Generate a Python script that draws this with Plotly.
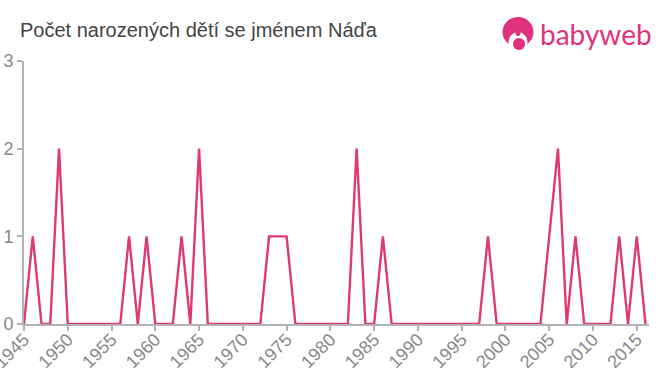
import plotly.graph_objects as go

years = list(range(1945, 2017))
nonzero = {1946: 1, 1949: 2, 1957: 1, 1959: 1, 1963: 1, 1965: 2, 1973: 1, 1974: 1, 1975: 1,
           1983: 2, 1986: 1, 1998: 1, 2005: 1, 2006: 2, 2008: 1, 2013: 1, 2015: 1}
counts = [nonzero.get(y, 0) for y in years]
y_ticks = [0, 1, 2, 3]
x_ticks = list(range(1945, 2016, 5))
title = "Počet narozených dětí se jménem Náďa"
brand = "babyweb"
W, H = 660, 375
L, R, T, B = 24, 11, 61, 51
PINK = "#e0327c"

fig = go.Figure(go.Scatter(x=years, y=counts, mode="lines",
                           line=dict(color="#df3a70", width=2.4), hoverinfo="skip", cliponaxis=False))

def px(x): return (x - L) / (W - L - R)
def py(y): return 1 - (y - T) / (H - T - B)
def circle(cx, cy, rx, ry, color):
    return dict(type="circle", xref="paper", yref="paper", x0=px(cx - rx), x1=px(cx + rx),
                y0=py(cy + ry), y1=py(cy - ry), fillcolor=color, line=dict(width=0), layer="above")

shapes = [
    circle(518, 32, 15.5, 15, PINK),
    circle(518, 42, 9.5, 10, "white"),
    circle(518, 33, 2.5, 3, PINK),
    circle(519, 44, 6, 6, PINK),
]

fig.update_layout(
    width=W, height=H, autosize=False,
    margin=dict(l=L, r=R, t=T, b=B, pad=0),
    paper_bgcolor="white", plot_bgcolor="white", showlegend=False,
    font=dict(family="Liberation Sans, Arial, sans-serif", color="#888888", size=16),
    shapes=shapes,
    annotations=[
        dict(text=title, xref="paper", yref="paper", x=px(18), y=py(30), xanchor="left", yanchor="middle",
             showarrow=False, font=dict(size=20, color="#444444")),
        dict(text=brand, xref="paper", yref="paper", x=px(538), y=py(34), xanchor="left", yanchor="middle",
             showarrow=False, font=dict(size=28, color=PINK, family="Lato, sans-serif")),
    ],
    xaxis=dict(range=[1945, 2016.4], tickmode="array", tickvals=x_ticks, ticks="outside", ticklen=5,
               tickwidth=1.5, tickcolor="#b3b3b3", showline=True, linecolor="#b3b3b3", linewidth=2,
               showgrid=False, zeroline=False, tickangle=-45, automargin=False, ticklabeloverflow="allow",
               ticklabelstandoff=-9, tickfont=dict(size=18, color="#888888")),
    yaxis=dict(range=[0, 3], tickmode="array", tickvals=y_ticks, ticks="outside", ticklen=5,
               tickwidth=1.5, tickcolor="#b3b3b3", showline=True, linecolor="#b3b3b3", linewidth=2,
               showgrid=False, zeroline=False, automargin=False, tickfont=dict(size=18, color="#888888")),
)
fig.write_html("out.html", post_script="document.body.style.margin='0';", config={"displayModeBar": False})
